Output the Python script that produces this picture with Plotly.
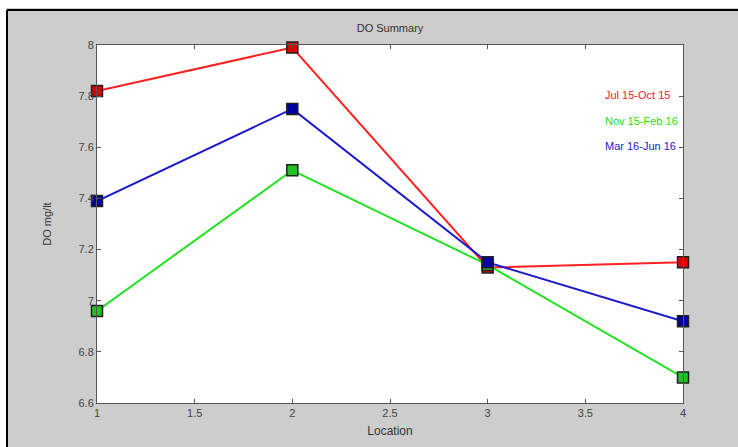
import plotly.graph_objects as go

locations = [1, 2, 3, 4]
jul15_oct15 = [7.82, 7.99, 7.13, 7.15]
nov15_feb16 = [6.96, 7.51, 7.14, 6.70]
mar16_jun16 = [7.39, 7.75, 7.15, 6.92]
series_names = ["Jul 15-Oct 15", "Nov 15-Feb 16", "Mar 16-Jun 16"]
x_ticks = [1, 1.5, 2, 2.5, 3, 3.5, 4]
y_ticks = [6.6, 6.8, 7, 7.2, 7.4, 7.6, 7.8, 8]

series = [jul15_oct15, nov15_feb16, mar16_jun16]
line_colors = ["#ff2020", "#22e022", "#1a1acc"]
fill_colors = ["#e00000", "#22c022", "#0000a0"]

fig = go.Figure()
for name, vals, lc, fc in zip(series_names, series, line_colors, fill_colors):
    fig.add_trace(go.Scatter(
        x=locations, y=vals, mode="lines+markers", name=name,
        line=dict(color=lc, width=2),
        marker=dict(symbol="square", size=11, color=fc,
                    line=dict(color="#202020", width=1.5)),
        showlegend=False, cliponaxis=False))

for i, (name, lc) in enumerate(zip(series_names, line_colors)):
    fig.add_annotation(x=(603 - 97) / (683 - 97), xref="paper", xanchor="left",
                       y=(403 - (95 + i * 25.5)) / (403 - 45), yref="paper",
                       yanchor="middle", text=name, showarrow=False,
                       font=dict(family="Liberation Sans, Arial", size=11, color=lc))

axis_common = dict(
    showline=True, linecolor="#555555", linewidth=1, mirror="ticks",
    ticks="inside", ticklen=4, tickcolor="#555555", showgrid=False,
    zeroline=False, tickfont=dict(family="Liberation Sans, Arial", size=11, color="#444444"),
)

fig.update_layout(
    width=738, height=447,
    margin=dict(l=97, r=55, t=45, b=44),
    paper_bgcolor="#cdcdcd", plot_bgcolor="white",
    title=dict(text="DO Summary", x=(97 + 683) / 2 / 738, xanchor="center",
               y=1 - 28 / 447, yanchor="middle",
               font=dict(family="Liberation Sans, Arial", size=11, color="#333333")),
    xaxis=dict(range=[1, 4], tickvals=x_ticks, ticktext=[str(t) for t in x_ticks],
               title=dict(text="Location", standoff=8,
                          font=dict(family="Liberation Sans, Arial", size=12, color="#333333")),
               **axis_common),
    yaxis=dict(range=[6.6, 8], tickvals=y_ticks, ticktext=["6.6", "6.8", "7", "7.2", "7.4", "7.6", "7.8", "8"],
               title=dict(text="DO mg/lt", standoff=24,
                          font=dict(family="Liberation Sans, Arial", size=11, color="#333333")),
               **axis_common),
    shapes=[
        dict(type="rect", xref="paper", yref="paper", x0=-97/586, x1=(738-97)/586,
             y0=(447-44 - 8)/358, y1=(447-44)/358 + 1, fillcolor="white", line=dict(width=0), layer="below"),
        dict(type="rect", xref="paper", yref="paper", x0=-97/586, x1=-91/586,
             y0=-44/358, y1=(447-44)/358 + 1, fillcolor="white", line=dict(width=0), layer="below"),
        dict(type="line", xref="paper", yref="paper", x0=-90/586, x1=(738-97)/586,
             y0=(403-10)/358, y1=(403-10)/358, line=dict(color="black", width=2)),
        dict(type="line", xref="paper", yref="paper", x0=-90/586, x1=-90/586,
             y0=-44/358, y1=(403-10)/358, line=dict(color="black", width=2)),
    ],
)

fig.write_html("out.html")
